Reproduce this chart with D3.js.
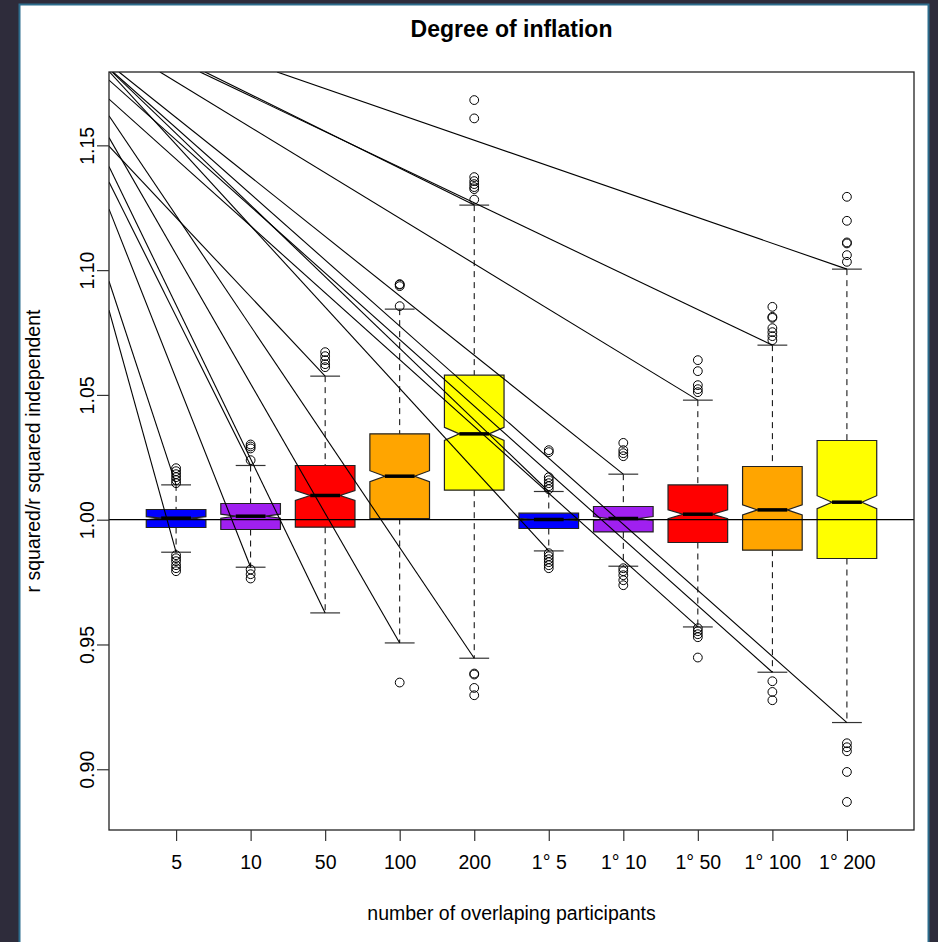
<!DOCTYPE html>
<html>
<head>
<meta charset="utf-8">
<script src="https://cdn.jsdelivr.net/npm/d3@7"></script>
<style>
  html, body { margin: 0; padding: 0; background: #2e2c3b; }
  svg { display: block; }
  text { font-family: "Liberation Sans", Arial, Helvetica, sans-serif; fill: #000; }
</style>
</head>
<body>
<svg id="chart" width="938" height="942"></svg>
<script>
// ---- data -------------------------------------------------------------
const categories = ["5", "10", "50", "100", "200", "1° 5", "1° 10", "1° 50", "1° 100", "1° 200"];
const boxColors  = ["#0000FF", "#A020F0", "#FF0000", "#FFA500", "#FFFF00",
                    "#0000FF", "#A020F0", "#FF0000", "#FFA500", "#FFFF00"];

const whiskerLow  = [0.98697, 0.98096, 0.96265, 0.95062, 0.94449, 0.98749, 0.98136, 0.95703, 0.93888, 0.91872];
const quartile1   = [0.99687, 0.99607, 0.99699, 1.00048, 1.01182, 0.99647, 0.99511, 0.99086, 0.98778, 0.98445];
const medians     = [1.00060, 1.00140, 1.00970, 1.01743, 1.03439, 1.00008, 1.00048, 1.00220, 1.00393, 1.00701];
const quartile3   = [1.00409, 1.00649, 1.02172, 1.03439, 1.05792, 1.00260, 1.00529, 1.01395, 1.02132, 1.03174];
const whiskerHigh = [1.01395, 1.02172, 1.05752, 1.08437, 1.12605, 1.01130, 1.01824, 1.04790, 1.06994, 1.10040];
// half-height of each notch around the median
const notchHalf   = [0.0006, 0.0008, 0.0020, 0.0022, 0.0026, 0.0005, 0.0008, 0.0018, 0.0020, 0.0026];

const outliers = [
  [1.02064, 1.01944, 1.01824, 1.01703, 1.01583, 1.01463, 0.98577, 0.98457, 0.98337, 0.98176, 0.98056, 0.97936],
  [1.03014, 1.02934, 1.02854, 1.02385, 0.98004, 0.97816, 0.97643],
  [1.06713, 1.06553, 1.06393, 1.06232, 1.06112],
  [1.09439, 1.09419, 1.09359, 1.08557, 0.93475],
  [1.16814, 1.16080, 1.13727, 1.13567, 1.13447, 1.13327, 1.13246, 1.12826, 0.93836, 0.93796, 0.93259, 0.92966],
  [1.02786, 1.02705, 1.01703, 1.01583, 1.01463, 1.01343, 1.01222, 0.98657, 0.98537, 0.98417, 0.98297, 0.98176, 0.98056],
  [1.03078, 1.02786, 1.02665, 1.02545, 0.98056, 0.97936, 0.97776, 0.97575, 0.97375],
  [1.06393, 1.05952, 1.05391, 1.05230, 1.05110, 0.95651, 0.95531, 0.95411, 0.95291, 0.94477],
  [1.08529, 1.08128, 1.08088, 1.07675, 1.07515, 1.07355, 1.07194, 0.93527, 0.93098, 0.92766],
  [1.12938, 1.11976, 1.11110, 1.11070, 1.10601, 1.10333, 0.91042, 0.90882, 0.90721, 0.89892, 0.88691]
];

// straight rays running from the upper left into a whisker end
const rayGroup = [10, 9, 5, 8, 7, 6, 10, 9, 8, 5, 4, 3, 2, 2, 1, 1, 3, 6];
const rayEnd   = ["high", "high", "high", "high", "high", "high", "low", "low", "low", "low", "low", "low",
                  "high", "low", "high", "low", "high", "low"];
const rayFromX = [2.354, 1.321, 1.388, 0.784, 0.234, 0.140, 0.154, 0.100, 0.100, 0.100, 0.100, 0.100,
                  0.100, 0.100, 0.100, 0.100, 0.100, 0.107];
const rayFromY = [1.1794, 1.1794, 1.1794, 1.1794, 1.1794, 1.1794, 1.1794, 1.17615, 1.16854, 1.16184, 1.15311, 1.14156,
                  1.13527, 1.12445, 1.09559, 1.08397, 1.14970, 1.1794];

const referenceLevel = 1.0;
const yTicks = [0.90, 0.95, 1.00, 1.05, 1.10, 1.15];

const titleText = "Degree of inflation";
const xLabel = "number of overlaping participants";
const yLabel = "r squared/r squared independent";

// ---- layout -----------------------------------------------------------
const svg = d3.select("#chart");
const plot = { left: 109, right: 914, top: 72, bottom: 830 };

// page card with its thin border
svg.append("rect").attr("x", 19.5).attr("y", 4.5).attr("width", 909).attr("height", 945)
  .attr("fill", "#ffffff").attr("stroke", "#2d6d8d").attr("stroke-width", 2);

const n = categories.length;
const x = d3.scaleLinear().domain([0.5 - 0.04 * n, n + 0.5 + 0.04 * n]).range([plot.left, plot.right]);
const allVals = whiskerLow.concat(whiskerHigh, outliers.flat());
const vMin = d3.min(allVals), vMax = d3.max(allVals);
const pad = 0.04 * (vMax - vMin);
const y = d3.scaleLinear().domain([vMin - pad, vMax + pad]).range([plot.bottom, plot.top]);

svg.append("defs").append("clipPath").attr("id", "plotClip")
  .append("rect").attr("x", plot.left).attr("y", plot.top)
  .attr("width", plot.right - plot.left).attr("height", plot.bottom - plot.top);

const boxHalf = 0.4;   // half box width in group units
const g = svg.append("g");

// whiskers (dashed) and caps
categories.forEach((c, i) => {
  const cx = x(i + 1);
  g.append("line").attr("x1", cx).attr("x2", cx).attr("y1", y(whiskerHigh[i])).attr("y2", y(quartile3[i]))
    .attr("stroke", "#000").attr("stroke-width", 1).attr("stroke-dasharray", "6,5");
  g.append("line").attr("x1", cx).attr("x2", cx).attr("y1", y(quartile1[i])).attr("y2", y(whiskerLow[i]))
    .attr("stroke", "#000").attr("stroke-width", 1).attr("stroke-dasharray", "6,5");
  [whiskerHigh[i], whiskerLow[i]].forEach(v => {
    g.append("line").attr("x1", x(i + 1 - boxHalf / 2)).attr("x2", x(i + 1 + boxHalf / 2))
      .attr("y1", y(v)).attr("y2", y(v)).attr("stroke", "#333").attr("stroke-width", 1.2);
  });
});

// notched boxes
categories.forEach((c, i) => {
  const xl = x(i + 1 - boxHalf), xr = x(i + 1 + boxHalf);
  const xnl = x(i + 1 - boxHalf / 2), xnr = x(i + 1 + boxHalf / 2);
  const nl = medians[i] - notchHalf[i], nu = medians[i] + notchHalf[i];
  const pts = [
    [xl, y(quartile1[i])], [xl, y(nl)], [xnl, y(medians[i])], [xl, y(nu)], [xl, y(quartile3[i])],
    [xr, y(quartile3[i])], [xr, y(nu)], [xnr, y(medians[i])], [xr, y(nl)], [xr, y(quartile1[i])]
  ];
  g.append("path").attr("d", d3.line()(pts) + "Z")
    .attr("fill", boxColors[i]).attr("stroke", "#222").attr("stroke-width", 1.2);
  g.append("line").attr("x1", xnl).attr("x2", xnr).attr("y1", y(medians[i])).attr("y2", y(medians[i]))
    .attr("stroke", "#000").attr("stroke-width", 3.5);
});

// outlying points
outliers.forEach((arr, i) => {
  g.selectAll(null).data(arr).enter().append("circle")
    .attr("cx", x(i + 1)).attr("cy", d => y(d)).attr("r", 4.4)
    .attr("fill", "none").attr("stroke", "#000").attr("stroke-width", 1);
});

// reference line and rays, clipped to the plotting region
const clipped = svg.append("g").attr("clip-path", "url(#plotClip)");
clipped.append("line").attr("x1", plot.left).attr("x2", plot.right)
  .attr("y1", y(referenceLevel)).attr("y2", y(referenceLevel))
  .attr("stroke", "#000").attr("stroke-width", 1.2);
rayGroup.forEach((grp, k) => {
  const endV = rayEnd[k] === "high" ? whiskerHigh[grp - 1] : whiskerLow[grp - 1];
  clipped.append("line")
    .attr("x1", x(rayFromX[k])).attr("y1", y(rayFromY[k]))
    .attr("x2", x(grp)).attr("y2", y(endV))
    .attr("stroke", "#000").attr("stroke-width", 1.1);
});

// frame
svg.append("rect").attr("x", plot.left).attr("y", plot.top)
  .attr("width", plot.right - plot.left).attr("height", plot.bottom - plot.top)
  .attr("fill", "none").attr("stroke", "#222").attr("stroke-width", 1.3);

// axes
const xAxis = d3.axisBottom(x).tickValues(d3.range(1, n + 1)).tickFormat(d => categories[d - 1])
  .tickSize(11).tickPadding(14);
const xg = svg.append("g").attr("transform", `translate(0,${plot.bottom})`).call(xAxis);
xg.select(".domain").remove();
xg.selectAll(".tick line").attr("stroke", "#333").attr("stroke-width", 1.2);
xg.selectAll(".tick text").attr("font-size", 19.5).attr("fill", "#000")
  .attr("font-family", "'Liberation Sans', Arial, sans-serif");

const yAxis = d3.axisLeft(y).tickValues(yTicks).tickFormat(d3.format(".2f")).tickSize(12).tickPadding(0);
const yg = svg.append("g").attr("transform", `translate(${plot.left},0)`).call(yAxis);
yg.select(".domain").remove();
yg.selectAll(".tick line").attr("stroke", "#333").attr("stroke-width", 1.2);
yg.selectAll(".tick text").attr("font-size", 19.5).attr("fill", "#000")
  .attr("font-family", "'Liberation Sans', Arial, sans-serif")
  .attr("text-anchor", "middle").attr("x", 0).attr("dy", 0)
  .attr("transform", "translate(-22,0) rotate(-90)").attr("y", 0)
  .attr("dominant-baseline", "central");

// titles
svg.append("text").attr("x", (plot.left + plot.right) / 2).attr("y", 37)
  .attr("text-anchor", "middle").attr("font-size", 23).attr("font-weight", "bold").text(titleText);
svg.append("text").attr("x", (plot.left + plot.right) / 2).attr("y", 920)
  .attr("text-anchor", "middle").attr("font-size", 19.5).text(xLabel);
svg.append("text").attr("transform", `translate(40,${(plot.top + plot.bottom) / 2}) rotate(-90)`)
  .attr("text-anchor", "middle").attr("font-size", 19.5).text(yLabel);
</script>
</body>
</html>
